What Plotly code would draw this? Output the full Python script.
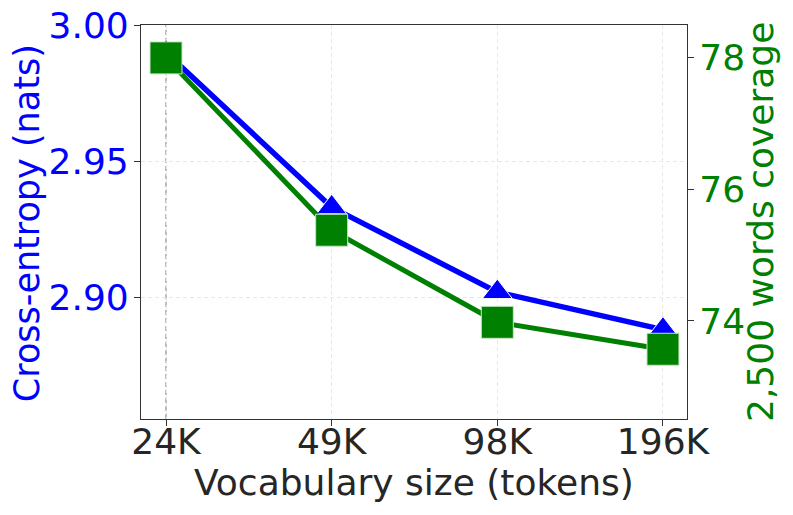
import plotly.graph_objects as go

# data
vocab_labels = ["24K", "49K", "98K", "196K"]
vocab_pos = [0, 1, 2, 3]
cross_entropy = [2.990, 2.933, 2.9018, 2.888]
coverage = [78.0, 75.38, 73.98, 73.57]

BLUE = "#0000ff"
GREEN = "#008000"
INK = "#262626"
GRID = "#e8e8e8"
FONT = "DejaVu Sans"

fig = go.Figure()

# gray dashed marker at the smallest vocabulary
fig.add_vline(x=vocab_pos[0], line=dict(color="#a8a8a8", width=1.5, dash="5px,3px"), layer="below")

fig.add_trace(go.Scatter(
    x=vocab_pos, y=cross_entropy,
    mode="lines+markers",
    line=dict(color=BLUE, width=5.5),
    marker=dict(symbol="triangle-up", size=26, color=BLUE, line=dict(color="white", width=1)),
    yaxis="y",
    showlegend=False,
))

fig.add_trace(go.Scatter(
    x=vocab_pos, y=coverage,
    mode="lines+markers",
    line=dict(color=GREEN, width=5),
    marker=dict(symbol="square", size=32, color=GREEN, line=dict(color="#c8e6c8", width=1)),
    yaxis="y2",
    showlegend=False,
))

# axis titles as annotations so the plot box stays fixed
fig.add_annotation(xref="paper", yref="paper", x=0.5, y=-0.16,
                   text="Vocabulary size (tokens)", showarrow=False,
                   xanchor="center", yanchor="middle",
                   font=dict(size=36, color=INK))
fig.add_annotation(xref="paper", yref="paper", x=-0.2088, y=0.497,
                   text="Cross-entropy (nats)", showarrow=False, textangle=-90,
                   xanchor="center", yanchor="middle",
                   font=dict(size=35, color=BLUE))
fig.add_annotation(xref="paper", yref="paper", x=1.1337, y=0.50,
                   text="2,500 words coverage", showarrow=False, textangle=-90,
                   xanchor="center", yanchor="middle",
                   font=dict(size=36, color=GREEN))

axis_common = dict(
    ticks="outside", ticklen=6, tickcolor="#333",
    showline=True, linecolor="#333", linewidth=1.2,
    zeroline=False, automargin=False, ticklabeloverflow="allow",
)

# page body has an 8px margin, so the figure is 8px smaller than the window
fig.update_layout(
    width=785, height=507,
    margin=dict(l=133, r=106, t=17, b=96),
    paper_bgcolor="white",
    plot_bgcolor="white",
    font=dict(family=FONT, size=36, color=INK),
    xaxis=dict(
        range=[-0.151, 3.145],
        tickmode="array", tickvals=vocab_pos, ticktext=vocab_labels,
        tickfont=dict(size=36, color=INK),
        ticklabelstandoff=-15,
        mirror=True,
        showgrid=True, gridcolor=GRID, griddash="4px,3px", gridwidth=1,
        **axis_common,
    ),
    yaxis=dict(
        range=[2.8551, 3.0001],
        tickvals=[2.90, 2.95, 3.00], tickformat=".2f",
        tickfont=dict(size=36, color=BLUE),
        ticklabelstandoff=-2,
        showgrid=True, gridcolor=GRID, griddash="4px,3px", gridwidth=1,
        **axis_common,
    ),
    yaxis2=dict(
        range=[72.51, 78.50],
        overlaying="y", side="right",
        tickvals=[74, 76, 78],
        tickfont=dict(size=36, color=GREEN),
        ticklabelstandoff=-2,
        showgrid=False,
        **axis_common,
    ),
)

fig.write_html("out.html")
